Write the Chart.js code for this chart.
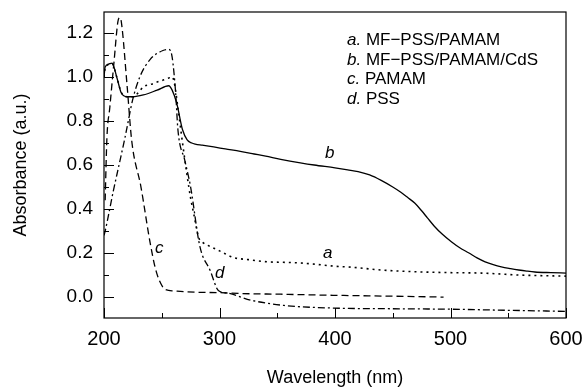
<!DOCTYPE html>
<html>
<head>
<meta charset="utf-8">
<script src="https://cdn.jsdelivr.net/npm/chart.js@4.4.0/dist/chart.umd.min.js"></script>
<style>
html, body { margin: 0; padding: 0; background: #fff; }
</style>
</head>
<body>
<canvas id="graph" width="583" height="391"></canvas>
<script>
// a. MF-PSS/PAMAM (dotted)
const wlA = [200,201,207,211,215,220,225,230,234,240,246,252,256,259,261,264,268,272,275,278,282,285,290,300,312,325,342,355,370,385,400,414,440,470,500,527,560,600];
const absA = [1.0,1.04,1.06,1.0,0.93,0.91,0.91,0.93,0.955,0.965,0.977,0.987,0.995,1.0,0.97,0.86,0.7,0.55,0.45,0.37,0.27,0.25,0.235,0.21,0.18,0.17,0.16,0.158,0.155,0.148,0.14,0.136,0.123,0.115,0.111,0.109,0.1,0.095];

// b. MF-PSS/PAMAM/CdS (solid)
const wlB = [200,201,204,207,211,215,220,225,234,246,256,259,263,268,272,276,279,285,295,305,318,330,340,353,370,382,400,411,420,430,440,450,457,463,469,475,480,486,493,501,508,516,523,530,537,544,552,559,566,573,587,600];
const absB = [1.0,1.045,1.058,1.063,1.0,0.927,0.91,0.91,0.918,0.94,0.96,0.94,0.88,0.76,0.714,0.70,0.695,0.69,0.682,0.673,0.662,0.65,0.64,0.626,0.61,0.6,0.587,0.578,0.57,0.555,0.53,0.5,0.476,0.452,0.427,0.392,0.36,0.322,0.285,0.25,0.224,0.2,0.178,0.16,0.147,0.137,0.129,0.123,0.118,0.114,0.111,0.109];

// c. PAMAM (dashed)
const wlC = [201,202.5,205,208.7,212,213.5,215,220,224,232,240,245,251,256,260,280,300,320,353,400,450,494];
const absC = [0.44,0.72,0.86,1.07,1.25,1.27,1.25,0.96,0.71,0.5,0.245,0.12,0.045,0.03,0.028,0.022,0.02,0.016,0.013,0.008,0.004,0.0];

// d. PSS (dash-dot)
const wlD = [200,201,208,213,218,225,231,240,251,256,259,262,264,270,275,283,292,299,307,327,356,399,450,498,550,600];
const absD = [0.28,0.3,0.48,0.6,0.72,0.9,1.0,1.08,1.12,1.125,1.09,0.93,0.76,0.62,0.5,0.23,0.12,0.03,0.018,-0.014,-0.038,-0.05,-0.053,-0.055,-0.06,-0.065];

const xTicks = [200, 300, 400, 500, 600];
const xMinor = [250, 350, 450, 550];
const yTicks = [0.0, 0.2, 0.4, 0.6, 0.8, 1.0, 1.2];
const yMinor = [0.1, 0.3, 0.5, 0.7, 0.9, 1.1];

const legendKeys = ['a.', 'b.', 'c.', 'd.'];
const legendNames = ['MF\u2212PSS/PAMAM', 'MF\u2212PSS/PAMAM/CdS', 'PAMAM', 'PSS'];
const curveTags = ['a', 'b', 'c', 'd'];
const tagAt = [[323, 258], [325, 158], [155, 253], [215, 278]];

const FONT = '"Liberation Sans", Arial, sans-serif';
Chart.defaults.font.family = FONT;
Chart.defaults.color = '#000';

function pairs(xs, ys) {
    return xs.map((v, i) => ({ x: v, y: ys[i] }));
}

function line(data, dash, width) {
    return {
        data: data,
        borderColor: '#000',
        borderWidth: width,
        borderDash: dash,
        pointRadius: 0,
        fill: false,
        cubicInterpolationMode: 'monotone'
    };
}

const overlay = {
    id: 'overlay',
    afterDraw(chart) {
        const ctx = chart.ctx;
        const ca = chart.chartArea;
        const x = chart.scales.x, y = chart.scales.y;
        ctx.save();
        ctx.strokeStyle = '#000';
        ctx.lineWidth = 1.2;
        ctx.strokeRect(ca.left, ca.top, ca.right - ca.left, ca.bottom - ca.top);

        ctx.beginPath();
        xTicks.forEach(v => { const p = Math.round(x.getPixelForValue(v)) + 0.5; ctx.moveTo(p, ca.bottom); ctx.lineTo(p, ca.bottom - 10); });
        xMinor.forEach(v => { const p = Math.round(x.getPixelForValue(v)) + 0.5; ctx.moveTo(p, ca.bottom); ctx.lineTo(p, ca.bottom - 5); });
        yTicks.forEach(v => { const p = Math.round(y.getPixelForValue(v)) + 0.5; ctx.moveTo(ca.left, p); ctx.lineTo(ca.left + 10, p); });
        yMinor.forEach(v => { const p = Math.round(y.getPixelForValue(v)) + 0.5; ctx.moveTo(ca.left, p); ctx.lineTo(ca.left + 5, p); });
        ctx.lineWidth = 1;
        ctx.stroke();

        ctx.fillStyle = '#000';
        ctx.textBaseline = 'alphabetic';
        legendKeys.forEach((k, i) => {
            const by = 45 + i * 19.7;
            ctx.font = 'italic 17px ' + FONT;
            ctx.fillText(k, 347, by);
            const w = ctx.measureText(k + ' ').width;
            ctx.font = '17px ' + FONT;
            ctx.fillText(legendNames[i], 347 + w, by);
        });
        ctx.font = 'italic 17px ' + FONT;
        curveTags.forEach((t, i) => ctx.fillText(t, tagAt[i][0], tagAt[i][1]));
        ctx.restore();
    }
};

new Chart(document.getElementById('graph'), {
    type: 'line',
    data: {
        datasets: [
            line(pairs(wlA, absA), [2, 4], 1.6),
            line(pairs(wlB, absB), [], 1.3),
            line(pairs(wlC, absC), [7, 4], 1.3),
            line(pairs(wlD, absD), [7, 3, 2, 3], 1.3)
        ]
    },
    options: {
        responsive: false,
        animation: false,
        layout: { padding: { left: 0, right: 17, top: 12, bottom: 0 } },
        plugins: { legend: { display: false }, tooltip: { enabled: false } },
        scales: {
            x: {
                type: 'linear',
                min: 200,
                max: 600,
                afterBuildTicks: s => { s.ticks = xTicks.map(v => ({ value: v })); },
                afterFit: s => { s.height = 73; s.paddingLeft = 0; s.paddingRight = 0; },
                grid: { display: false, drawTicks: false },
                border: { display: false },
                ticks: { font: { size: 20 }, padding: 9, maxRotation: 0 },
                title: { display: true, text: 'Wavelength (nm)', font: { size: 18 }, padding: { top: 0, bottom: 2 } }
            },
            y: {
                type: 'linear',
                min: -0.095,
                max: 1.295,
                afterBuildTicks: s => { s.ticks = yTicks.map(v => ({ value: v })); },
                afterFit: s => { s.width = 104; s.paddingTop = 0; s.paddingBottom = 0; },
                grid: { display: false, drawTicks: false },
                border: { display: false },
                ticks: { font: { size: 19 }, padding: 11, callback: v => v.toFixed(1) },
                title: { display: true, text: 'Absorbance (a.u.)', font: { size: 18 }, padding: { top: 10, bottom: 0 } }
            }
        }
    },
    plugins: [overlay]
});
</script>
</body>
</html>
